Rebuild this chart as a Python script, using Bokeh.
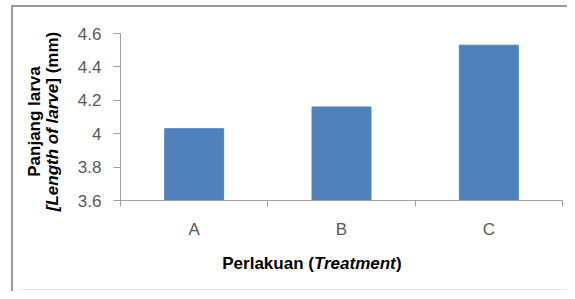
import math
from bokeh.plotting import figure
from bokeh.models import Range1d, FixedTicker, LinearAxis, Label
from bokeh.embed import file_html
from bokeh.resources import INLINE

# ---- data ----
categories = ["A", "B", "C"]
lengths = [4.03, 4.16, 4.53]
y_ticks = [3.6, 3.8, 4.0, 4.2, 4.4, 4.6]
y_tick_labels = ["3.6", "3.8", "4", "4.2", "4.4", "4.6"]
# title pieces: (text, font style, side panel that hosts the label)
x_title = [("Perlakuan (", "bold", "below"), ("Treatment", "bold italic", "below"), (")", "bold", "above")]
y_title_1 = [("Panjang larva", "bold", "left")]
y_title_2 = [("[Length of larve", "bold italic", "left"), ("] (mm)", "bold", "left")]

# ---- styling ----
FONT = "Liberation Sans"
TITLE_SIZE = 17
TICK_SIZE = "17px"
BAR_COLOR = "#4f81bd"
AXIS_COLOR = "#a0a0a0"
TICK_TEXT = "#595959"
FRAME_COLOR = "#9a9a9a"

# Arial/Liberation Sans Bold advance widths (per 1000 em)
W = {' ': 278, '(': 333, ')': 333, '[': 333, ']': 333, 'P': 667, 'T': 611, 'L': 611,
     'a': 556, 'e': 556, 'f': 333, 'g': 611, 'h': 611, 'j': 278, 'k': 556, 'l': 278,
     'm': 889, 'n': 611, 'o': 611, 'r': 389, 't': 333, 'u': 611, 'v': 556}


def tw(s, size):
    return sum(W.get(c, 556) for c in s) / 1000.0 * size


p = figure(width=567, height=291,
           x_range=Range1d(0, len(categories)),
           y_range=Range1d(y_ticks[0], y_ticks[-1]),
           output_backend="svg", toolbar_location=None,
           x_axis_type=None, y_axis_type=None,
           min_border_left=120, min_border_right=5,
           min_border_top=33, min_border_bottom=91)
p.outline_line_color = None
p.xgrid.visible = False
p.ygrid.visible = False
p.background_fill_color = "white"
p.border_fill_color = None
# outer chart-area border (left/top edges, faint bottom edge) drawn behind the canvas
p.styles = {
    "background-color": "white",
    "background-image": (f"linear-gradient({FRAME_COLOR},{FRAME_COLOR}), "
                         f"linear-gradient({FRAME_COLOR},{FRAME_COLOR}), "
                         "linear-gradient(#e6e6e6,#e6e6e6)"),
    "background-size": "2px 100%, 100% 2px, 100% 1px",
    "background-position": "11px 5px, 11px 5px, 20px 289px",
    "background-repeat": "no-repeat",
}

xs = [i + 0.5 for i in range(len(categories))]
p.vbar(x=xs, top=lengths, bottom=y_ticks[0], width=0.4,
       fill_color=BAR_COLOR, line_color=BAR_COLOR)

xaxis = LinearAxis(
    ticker=FixedTicker(ticks=xs, minor_ticks=list(range(len(categories) + 1))),
    major_label_overrides={x: c for x, c in zip(xs, categories)},
    major_tick_line_color=None, major_tick_out=0, major_tick_in=0,
    minor_tick_line_color=AXIS_COLOR, minor_tick_out=6, minor_tick_in=0,
    axis_line_color=AXIS_COLOR, major_label_standoff=13,
    major_label_text_font=FONT, major_label_text_font_size=TICK_SIZE,
    major_label_text_color=TICK_TEXT)
p.add_layout(xaxis, "below")

yaxis = LinearAxis(
    ticker=FixedTicker(ticks=y_ticks, minor_ticks=[]),
    major_label_overrides=dict(zip(y_ticks, y_tick_labels)),
    major_tick_out=7, major_tick_in=0, major_tick_line_color=AXIS_COLOR,
    minor_tick_line_color=None, axis_line_color=AXIS_COLOR,
    major_label_standoff=12,
    major_label_text_font=FONT, major_label_text_font_size=TICK_SIZE,
    major_label_text_color=TICK_TEXT)
p.add_layout(yaxis, "left")


def horiz_title(segs, cx, cy):
    total = sum(tw(s, TITLE_SIZE) for s, _, _ in segs)
    x = cx - total / 2
    for s, style, side in segs:
        p.add_layout(Label(x=x, y=cy, x_units="canvas", y_units="canvas", text=s,
                           text_font=FONT, text_font_style=style,
                           text_font_size=f"{TITLE_SIZE}px", text_color="black",
                           text_align="left", text_baseline="middle"), side)
        x += tw(s, TITLE_SIZE)


def vert_title(segs, cx, cy):
    total = sum(tw(s, TITLE_SIZE) for s, _, _ in segs)
    y = cy + total / 2
    for s, style, side in segs:
        p.add_layout(Label(x=cx, y=y, x_units="canvas", y_units="canvas", text=s,
                           angle=math.pi / 2,
                           text_font=FONT, text_font_style=style,
                           text_font_size=f"{TITLE_SIZE}px", text_color="black",
                           text_align="left", text_baseline="middle"), side)
        y -= tw(s, TITLE_SIZE)


horiz_title(x_title, 311.5, 263)
vert_title(y_title_1, 34, 121)
vert_title(y_title_2, 52, 121)

open("out.html", "w").write(file_html(p, INLINE))
